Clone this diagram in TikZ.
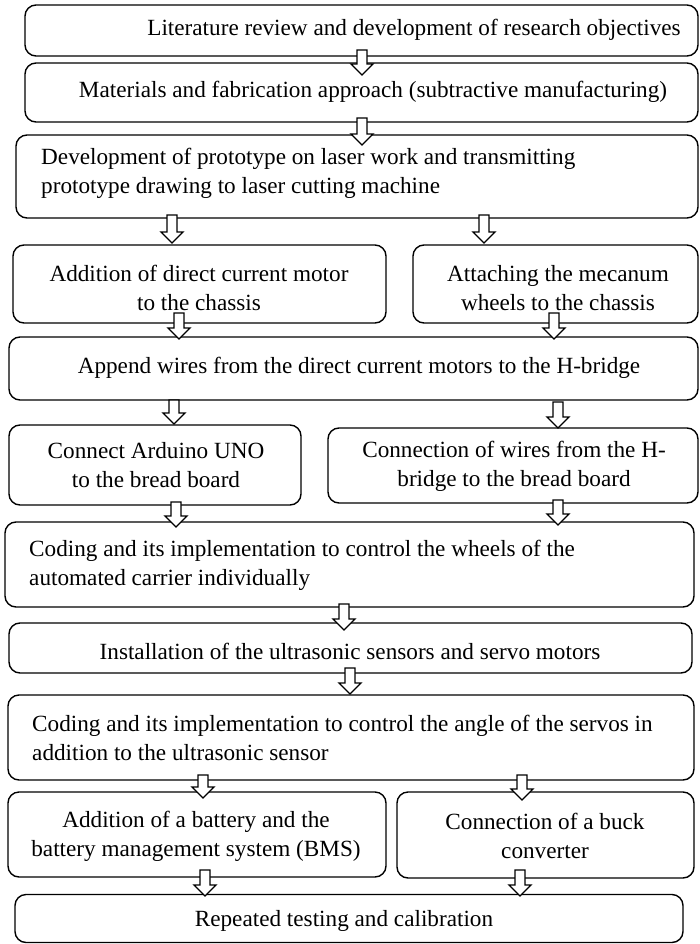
\documentclass[tikz,border=0pt]{standalone}
\usepackage{fontspec}
\setmainfont{Liberation Serif}
\begin{document}
\begin{tikzpicture}[x=1pt,y=-1pt,
  bx/.style={draw, line width=1.4pt, rounded corners=11pt, inner sep=0pt},
  txt/.style={inner sep=0pt, font=\fontsize{23.2}{29}\selectfont},
  barrowstyle/.style={draw, fill=white, line width=1.3pt, line join=miter}]
\useasboundingbox (0,0) rectangle (700,944);
\newcommand\barrow[3]{\draw[barrowstyle] ({#1-5},#2) -- ({#1+5},#2) -- ({#1+5},{#3-11}) -- ({#1+11},{#3-11}) -- (#1,#3) -- ({#1-11},{#3-11}) -- ({#1-5},{#3-11}) -- cycle;}
% boxes
\node[bx, minimum width=673pt, minimum height=51pt] (b1) at (361.5,30.5) {};
\node[bx, minimum width=673pt, minimum height=59pt] (b2) at (361.5,92.5) {};
\node[bx, minimum width=682pt, minimum height=83pt] (b3) at (357,176.5) {};
\node[bx, minimum width=373pt, minimum height=78pt] (b4) at (199.5,284) {};
\node[bx, minimum width=285pt, minimum height=78pt] (b5) at (555.5,284) {};
\node[bx, minimum width=689pt, minimum height=63pt] (b6) at (353.5,368.5) {};
\node[bx, minimum width=292pt, minimum height=80pt] (b7) at (155,465) {};
\node[bx, minimum width=370pt, minimum height=75pt] (b8) at (513,465.5) {};
\node[bx, minimum width=689pt, minimum height=85pt] (b9) at (349.5,564.5) {};
\node[bx, minimum width=683pt, minimum height=50pt] (b10) at (350.5,648) {};
\node[bx, minimum width=686pt, minimum height=85pt] (b11) at (351,737.5) {};
\node[bx, minimum width=378pt, minimum height=85pt] (b12) at (197,834.5) {};
\node[bx, minimum width=297pt, minimum height=86pt] (b13) at (545.5,835) {};
\node[bx, minimum width=668pt, minimum height=48pt] (b14) at (349,918.5) {};
% texts
\node[txt] (t1) at (414,30) {Literature review and development of research objectives};
\node[txt] (t2) at (373,92) {Materials and fabrication approach (subtractive manufacturing)};
\node[txt, anchor=west, align=left] (t3) at (41,173) {Development of prototype on laser work and transmitting\\prototype drawing to laser cutting machine};
\node[txt, align=center] (t4) at (199,288) {Addition of direct current motor\\to the chassis};
\node[txt, align=center] (t5) at (558,288) {Attaching the mecanum\\wheels to the chassis};
\node[txt] (t6) at (359,368) {Append wires from the direct current motors to the H-bridge};
\node[txt, align=center] (t7) at (156,465) {Connect Arduino UNO\\to the bread board};
\node[txt, align=center] (t8) at (514,466) {Connection of wires from the H-\\bridge to the bread board};
\node[txt, anchor=west, align=left] (t9) at (29,565) {Coding and its implementation to control the wheels of the\\automated carrier individually};
\node[txt] (t10) at (350,651) {Installation of the ultrasonic sensors and servo motors};
\node[txt, anchor=west, align=left] (t11) at (32,738) {Coding and its implementation to control the angle of the servos in\\addition to the ultrasonic sensor};
\node[txt, align=center] (t12) at (196,836) {Addition of a battery and the\\battery management system (BMS)};
\node[txt, align=center] (t13) at (545,836) {Connection of a buck\\converter};
\node[txt] (t14) at (344,921) {Repeated testing and calibration};
% arrows
\barrow{362}{50}{75}
\barrow{362}{118}{145}
\barrow{172}{215}{243}
\barrow{484}{215}{243}
\barrow{179}{313}{339}
\barrow{554}{313}{339}
\barrow{174}{400}{424}
\barrow{558}{402}{428}
\barrow{176}{502}{527}
\barrow{558}{500}{525}
\barrow{344}{604}{630}
\barrow{350}{668}{694}
\barrow{203}{775}{798}
\barrow{522}{775}{800}
\barrow{205}{870}{896}
\barrow{520}{870}{896}
\end{tikzpicture}
\end{document}
